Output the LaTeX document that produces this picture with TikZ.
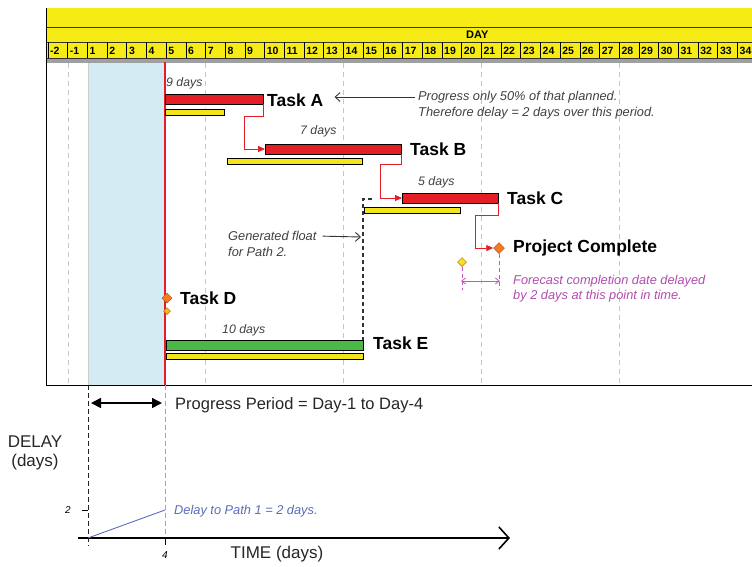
\documentclass[tikz,border=0pt]{standalone}
\usepackage{fontspec}
\setmainfont{Liberation Sans}
\usetikzlibrary{arrows.meta,shapes.geometric}
\definecolor{ybar}{HTML}{F4E51B}
\definecolor{rbar}{HTML}{E31E24}
\definecolor{gbar}{HTML}{4CB848}
\definecolor{hdr}{HTML}{F6EB14}
\definecolor{pshade}{HTML}{D4EBF4}
\definecolor{mag}{HTML}{C455C0}
\definecolor{bluel}{HTML}{5A6BB8}
\definecolor{orng}{HTML}{F47B20}
\begin{document}
\begin{tikzpicture}[x=1pt,y=-1pt,
  bar/.style={draw=black, line width=0.8pt, inner sep=0pt, outer sep=0pt, minimum height=10pt, anchor=west},
  plan/.style={bar, fill=ybar, minimum height=6pt},
  tasklbl/.style={font=\fontsize{17.5}{17.5}\selectfont\bfseries, anchor=west, inner sep=0pt},
  note/.style={font=\fontsize{12.8}{12.8}\selectfont\itshape, anchor=west, inner sep=0pt, text=black!75},
  dur/.style={font=\fontsize{12.3}{12.3}\selectfont\itshape, anchor=west, inner sep=0pt, text=black!75},
  link/.style={draw=rbar, line width=0.8pt, -{Triangle[length=7pt,width=6pt]}},
  week/.style={draw=gray!45, line width=0.8pt, dash pattern=on 5pt off 4pt},
  daylbl/.style={font=\fontsize{10.5}{10.5}\selectfont\bfseries, anchor=west, inner sep=0pt},
  big/.style={font=\fontsize{16.5}{16.5}\selectfont, inner sep=0pt, text=black!85},
  dia/.style={diamond, inner sep=0pt, minimum size=10pt, line width=0.5pt},
  barb/.style={-{Straight Barb[length=5pt,width=9pt]}, line width=0.9pt, draw=black!80}
]
\useasboundingbox (0,0) rectangle (752,566);
\clip (0,0) rectangle (752,566);
% header
\fill[hdr] (46,8) rectangle (760,58);
\draw[line width=1pt, black!80] (46,27) -- (760,27) (46,42) -- (760,42) (46,58) -- (760,58);
\fill[gray!75] (46,58.5) rectangle (760,62.5);
\node[daylbl, font=\fontsize{11}{11}\selectfont\bfseries] (dayhdr) at (466,34.5) {DAY};
\foreach \lab [count=\i from 0] in {-2,-1,1,2,...,34} {
  \pgfmathsetmacro{\xl}{48+19.7*\i}
  \draw[line width=0.8pt] (\xl,42) -- (\xl,58);
  \node[daylbl] (d\i) at (\xl+2,50.5) {\lab};
}
% chart area
\fill[pshade] (88,63) rectangle (165,385);
\draw[gray!40, line width=0.6pt] (88,63) -- (88,385);
\foreach \wx in {68,205,343,481,619} {
  \draw[week] (\wx,63) -- (\wx,385);
}
\draw[line width=1pt] (46,8) -- (46,385) -- (760,385);
\draw[rbar, line width=2pt] (165,62) -- (165,385);

% Task A
\node[bar, fill=rbar, minimum width=98pt] (taskA) at (165,99) {};
\node[plan, minimum width=59pt] (planA) at (165,112) {};
\node[dur] (durA) at (166,83) {9 days};
\node[tasklbl] (labA) at (267,100) {Task A};
\node[note] (noteA1) at (418,97) {Progress only 50\% of that planned.};
\node[note] (noteA2) at (418,113) {Therefore delay = 2 days over this period.};
\draw[barb, shorten >=11pt, shorten <=3pt] (noteA1.west) -- (noteA1.west -| labA.east);

% Task B
\node[bar, fill=rbar, minimum width=136pt] (taskB) at (265,149) {};
\node[plan, minimum width=135pt] (planB) at (227,161) {};
\node[dur] (durB) at (300,131) {7 days};
\node[tasklbl] (labB) at (410,149) {Task B};
\draw[link] (taskA.south east) -- ++(0,12) -| ([xshift=-21pt]taskB.west) -- (taskB.west);

% Task C
\node[bar, fill=rbar, minimum width=96pt] (taskC) at (402,198) {};
\node[plan, minimum width=96pt] (planC) at (364,210.5) {};
\node[dur] (durC) at (418,182) {5 days};
\node[tasklbl] (labC) at (507,198) {Task C};
\draw[link] (taskB.south east) -- ++(0,10) -| ([xshift=-22pt]taskC.west) -- (taskC.west);

% Task E
\node[bar, fill=gbar, minimum width=197pt] (taskE) at (166,345) {};
\node[plan, minimum width=197pt] (planE) at (166,356.5) {};
\node[dur] (durE) at (222,330) {10 days};
\node[tasklbl] (labE) at (373,343) {Task E};

% generated float
\coordinate (floattop) at (372,199);
\draw[black!80, line width=1.2pt, dash pattern=on 4pt off 3pt] (floattop) -| (taskE.north east);
\node[note] (gf1) at (228,236) {Generated float};
\node[note] (gf2) at (228,252) {for Path 2.};
\coordinate (gftip) at (361,237);
\draw[barb, shorten <=6pt] (gf1.east) -- (gftip);

% project complete
\node[dia, fill=orng, draw=orng!70!black, minimum size=11pt] (pc) at (499,248) {};
\node[tasklbl] (labPC) at (513,248) {Project Complete};
\draw[link] (taskC.south east) -- ++(0,12) -| ([xshift=-18pt]pc.west) -- (pc.west);
\node[dia, fill=ybar, draw=orng!80!black, minimum size=9pt] (fc) at (462,262) {};
\coordinate (fcb) at (462,290);
\coordinate (pcb) at (499,290);
\draw[mag, line width=0.8pt, dash pattern=on 4pt off 3pt] (fc.south) -- (fcb) (pc.south) -- (pcb);
\coordinate (ma1) at (461,281);
\coordinate (ma2) at (500,281);
\draw[mag, line width=0.8pt, {Straight Barb[length=4pt,width=6pt]}-{Straight Barb[length=4pt,width=6pt]}] (ma1) -- (ma2);
\node[note, text=mag!90!black] (fcn1) at (513,281) {Forecast completion date delayed};
\node[note, text=mag!90!black] (fcn2) at (513,296) {by 2 days at this point in time.};

% Task D
\node[dia, fill=orng, draw=orng!70!black] (tdD) at (167,298) {};
\node[dia, fill=ybar!60!orng, draw=orng!80!black, minimum size=7pt] (tdDp) at (167,311) {};
\node[tasklbl] (labD) at (180,298) {Task D};

% lower part
\draw[black!85, line width=1pt, dash pattern=on 5pt off 3pt] (88,385) -- (88,546);
\draw[gray!70, line width=0.8pt, dash pattern=on 5pt off 3pt] (165,385) -- (165,538);
\coordinate (pp1) at (91,403);
\coordinate (pp2) at (162,403);
\draw[line width=1.5pt, {Triangle[length=10pt,width=10pt]}-{Triangle[length=10pt,width=10pt]}] (pp1) -- (pp2);
\node[big, anchor=west] (ppl) at (175,405) {Progress Period = Day-1 to Day-4};
\node[big, font=\fontsize{17}{17}\selectfont] (dl1) at (35,442) {DELAY};
\node[big, font=\fontsize{17}{17}\selectfont] (dl2) at (35,462) {(days)};
\coordinate (ax0) at (78,538);
\coordinate (ax1) at (510,538);
\draw[line width=1.6pt, -{Straight Barb[length=10pt,width=22pt]}] (ax0) -- (ax1);
\draw[line width=1pt] (82,510) -- (88,510);
\node[font=\fontsize{10}{10}\selectfont\itshape, inner sep=0pt] (two) at (68,510) {2};
\draw[line width=1pt] (165,538) -- (165,545);
\node[font=\fontsize{10}{10}\selectfont\itshape, inner sep=0pt] (four) at (165,555) {4};
\node[big, font=\fontsize{17}{17}\selectfont] (timel) at (277,554) {TIME (days)};
\coordinate (dp0) at (88,538);
\coordinate (dp1) at (165,510);
\draw[bluel, line width=0.9pt] (dp0) -- (dp1);
\node[note, text=bluel] (dpn) at (174,511) {Delay to Path 1 = 2 days.};
\end{tikzpicture}
\end{document}
